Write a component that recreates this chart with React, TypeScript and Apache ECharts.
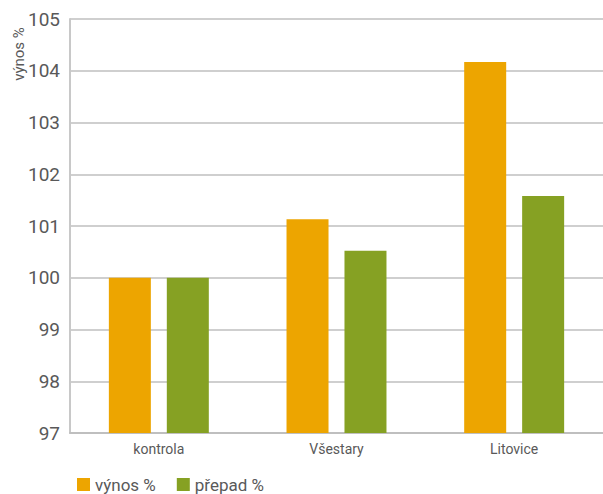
import React, { useEffect, useRef } from "react";
import * as echarts from "echarts";

const categories = ["kontrola", "Všestary", "Litovice"];
const vynos = [100, 101.13, 104.17];
const prepad = [100, 100.52, 101.58];
const seriesNames = ["výnos %", "přepad %"];
const yAxisName = "výnos %";

const FONT = "Roboto, 'Liberation Sans', sans-serif";

export default function App() {
  const ref = useRef<HTMLDivElement>(null);
  useEffect(() => {
    const chart = echarts.init(ref.current!, null, { renderer: "svg" });
    chart.setOption({
      animation: false,
      textStyle: { fontFamily: FONT },
      grid: { left: 70, right: -4, top: 19, bottom: 61, containLabel: false },
      legend: {
        left: 72,
        top: 471,
        itemWidth: 13,
        itemHeight: 13,
        itemGap: 21,
        icon: "rect",
        textStyle: { fontFamily: FONT, fontSize: 17, color: "#595959" },
        data: seriesNames,
      },
      graphic: [
        {
          type: "text",
          x: 19,
          y: 54,
          rotation: Math.PI / 2,
          style: {
            text: yAxisName,
            fontFamily: FONT,
            fontSize: 15,
            fill: "#595959",
            align: "center",
            verticalAlign: "middle",
          },
        },
      ],
      xAxis: {
        type: "category",
        data: categories,
        axisLine: { lineStyle: { color: "#bfbfbf", width: 2 } },
        axisTick: { show: false },
        axisLabel: { fontFamily: FONT, fontSize: 14, color: "#595959", margin: 9 },
      },
      yAxis: {
        type: "value",
        min: 97,
        max: 105,
        interval: 1,
        axisLine: { show: true, lineStyle: { color: "#c8c8c8", width: 2 } },
        axisTick: { show: false },
        axisLabel: { fontFamily: FONT, fontSize: 19, color: "#595959", margin: 10 },
        splitLine: { lineStyle: { color: "#bfbfbf", width: 1.5 } },
      },
      series: [
        {
          name: seriesNames[0],
          type: "bar",
          data: vynos,
          barWidth: 42,
          barGap: "38%",
          itemStyle: { color: "#eda500" },
        },
        {
          name: seriesNames[1],
          type: "bar",
          data: prepad,
          barWidth: 42,
          itemStyle: { color: "#86a123" },
        },
      ],
    });
    return () => chart.dispose();
  }, []);
  return <div ref={ref} style={{ width: 603, height: 494, position: "absolute", left: 0, top: 0 }} />;
}
